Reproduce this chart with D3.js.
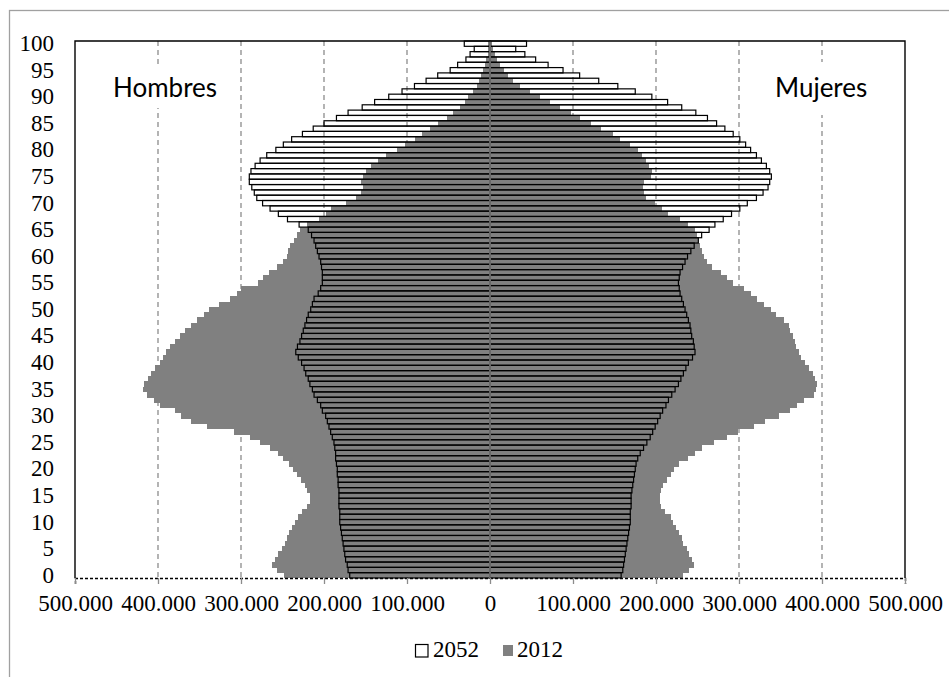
<!DOCTYPE html>
<html>
<head>
<meta charset="utf-8">
<script src="https://cdn.jsdelivr.net/npm/d3@7/dist/d3.min.js"></script>
<style>
  body { margin: 0; background: #fff; }
</style>
</head>
<body>
<svg id="chart"></svg>
<script>
// Population by single year of age (thousands of people), 0 .. 100+
const ages = d3.range(0, 101);
const ageTicks = [0, 5, 10, 15, 20, 25, 30, 35, 40, 45, 50, 55, 60, 65, 70, 75, 80, 85, 90, 95, 100];
const valueTicks = [-500, -400, -300, -200, -100, 0, 100, 200, 300, 400, 500];

const men2012 = [
  248, 257, 263, 259, 255, 251, 247, 245, 242, 238,
  235, 231, 226, 220, 217, 217, 220, 223, 228, 233,
  237, 242, 249, 256, 265, 277, 289, 309, 341, 360,
  372, 380, 398, 405, 413, 418, 417, 412, 408, 404,
  398, 394, 390, 385, 380, 374, 367, 360, 353, 345,
  338, 326, 313, 305, 300, 280, 273, 266, 257, 249,
  245, 243, 241, 236, 232, 229, 220, 206, 197, 191,
  174, 161, 155, 153, 155, 153, 149, 143, 135, 125,
  112, 102, 90, 82, 72, 63, 52, 45, 36, 30,
  27, 20, 16, 13, 11, 9, 6, 5, 3, 2,
  2
];
const women2012 = [
  232, 240, 246, 243, 240, 237, 233, 231, 228, 224,
  220, 218, 211, 206, 205, 205, 206, 209, 213, 218,
  222, 228, 238, 247, 256, 270, 285, 299, 318, 331,
  348, 361, 370, 378, 390, 393, 394, 392, 389, 384,
  379, 375, 372, 369, 367, 365, 362, 360, 354, 345,
  339, 330, 322, 314, 306, 293, 286, 278, 267, 262,
  258, 255, 253, 251, 249, 247, 238, 229, 215, 207,
  199, 188, 186, 184, 185, 194, 195, 191, 188, 183,
  178, 169, 157, 148, 134, 122, 108, 98, 84, 72,
  60, 48, 36, 28, 22, 17, 12, 9, 6, 4,
  2
];
const men2052 = [
  169, 171, 172, 174, 175, 176, 177, 178, 179, 180,
  181, 181, 181, 182, 182, 182, 182, 183, 183, 184,
  184, 185, 186, 186, 187, 188, 190, 192, 194, 196,
  198, 202, 204, 208, 212, 214, 217, 219, 222, 224,
  227, 231, 234, 232, 229, 227, 225, 223, 221, 219,
  216, 214, 212, 207, 204, 202, 202, 202, 203, 204,
  206, 208, 210, 212, 215, 219, 230, 244, 255, 265,
  274, 281, 284, 287, 290, 290, 288, 283, 277, 269,
  258, 249, 239, 226, 213, 200, 185, 171, 154, 139,
  122, 106, 91, 77, 63, 48, 39, 29, 24, 19,
  31
];
const women2052 = [
  158, 160, 161, 162, 163, 164, 165, 166, 167, 168,
  169, 169, 169, 170, 170, 170, 171, 172, 173, 174,
  175, 176, 178, 181, 185, 189, 193, 196, 199, 202,
  205, 208, 212, 215, 219, 223, 227, 230, 233, 236,
  239, 244, 247, 246, 245, 243, 242, 241, 239, 237,
  235, 233, 231, 229, 228, 227, 228, 229, 232, 235,
  238, 242, 246, 251, 255, 264, 271, 281, 291, 301,
  310, 321, 329, 335, 337, 339, 337, 333, 327, 321,
  314, 308, 301, 293, 283, 273, 262, 248, 231, 214,
  195, 175, 154, 131, 108, 88, 70, 55, 42, 31,
  44
];
const seriesNames = ['2052', '2012'];
const sideLabels = ['Hombres', 'Mujeres'];

const SERIF = '"Liberation Serif", "Times New Roman", serif';
const SANS = 'Lato, "Open Sans", sans-serif';

class PyramidChart {

  constructor(_config) {
    this.config = {
      parentElement: _config.parentElement,
      containerWidth: _config.containerWidth || 949,
      containerHeight: _config.containerHeight || 677,
      margin: _config.margin || {top: 41, right: 44, bottom: 99, left: 75}
    };
    this.initVis();
  }

  initVis() {
    let vis = this;

    vis.width = vis.config.containerWidth - vis.config.margin.left - vis.config.margin.right;
    vis.height = vis.config.containerHeight - vis.config.margin.top - vis.config.margin.bottom;

    vis.svg = d3.select(vis.config.parentElement)
      .attr('width', vis.config.containerWidth)
      .attr('height', vis.config.containerHeight);

    // outer chart frame (runs past the picture edge)
    vis.svg.append('rect')
      .attr('x', 9.5).attr('y', 10.5)
      .attr('width', 1000).attr('height', 1000)
      .attr('fill', 'none')
      .attr('stroke', '#a0a0a0')
      .attr('stroke-width', 1.3);

    vis.chart = vis.svg.append('g')
      .attr('transform', `translate(${vis.config.margin.left},${vis.config.margin.top})`);

    vis.xScale = d3.scaleLinear()
      .domain([-500, 500])
      .range([0, vis.width]);

    vis.yScale = d3.scaleBand()
      .domain(ages)
      .range([vis.height, 0])
      .padding(0);

    vis.renderVis();
  }

  renderVis() {
    let vis = this;
    const x = vis.xScale, y = vis.yScale;

    // dashed vertical gridlines
    vis.chart.append('g')
      .selectAll('line')
      .data(valueTicks.filter(d => d !== 0 && Math.abs(d) !== 500))
      .join('line')
        .attr('x1', d => x(d)).attr('x2', d => x(d))
        .attr('y1', 0).attr('y2', vis.height)
        .attr('stroke', '#8c8c8c')
        .attr('stroke-width', 1.3)
        .attr('stroke-dasharray', '5,4');

    // white text boxes behind the side labels cut the gridlines
    vis.chart.append('rect')
      .attr('x', 25).attr('y', 26).attr('width', 135).attr('height', 41)
      .attr('fill', '#fff');
    vis.chart.append('rect')
      .attr('x', 685).attr('y', 21).attr('width', 120).attr('height', 53)
      .attr('fill', '#fff');

    // 2012 solid grey bars
    const bars2012 = vis.chart.append('g').attr('shape-rendering', 'crispEdges');
    bars2012.selectAll('.m12')
      .data(ages)
      .join('rect')
        .attr('class', 'm12')
        .attr('x', d => x(-men2012[d]))
        .attr('y', d => y(d))
        .attr('width', d => x(0) - x(-men2012[d]))
        .attr('height', y.bandwidth() + 0.3)
        .attr('fill', '#808080');
    bars2012.selectAll('.w12')
      .data(ages)
      .join('rect')
        .attr('class', 'w12')
        .attr('x', x(0))
        .attr('y', d => y(d))
        .attr('width', d => x(women2012[d]) - x(0))
        .attr('height', y.bandwidth() + 0.3)
        .attr('fill', '#808080');

    // 2052 outlined bars on top
    const bars2052 = vis.chart.append('g');
    bars2052.selectAll('.m52')
      .data(ages)
      .join('rect')
        .attr('class', 'm52')
        .attr('x', d => x(-men2052[d]))
        .attr('y', d => y(d))
        .attr('width', d => x(0) - x(-men2052[d]))
        .attr('height', y.bandwidth())
        .attr('fill', 'none')
        .attr('stroke', '#000')
        .attr('stroke-width', 1.2);
    bars2052.selectAll('.w52')
      .data(ages)
      .join('rect')
        .attr('class', 'w52')
        .attr('x', x(0))
        .attr('y', d => y(d))
        .attr('width', d => x(women2052[d]) - x(0))
        .attr('height', y.bandwidth())
        .attr('fill', 'none')
        .attr('stroke', '#000')
        .attr('stroke-width', 1.2);

    // centre axis line
    vis.chart.append('line')
      .attr('x1', x(0)).attr('x2', x(0))
      .attr('y1', 0).attr('y2', vis.height)
      .attr('stroke', '#7f7f7f')
      .attr('stroke-width', 1.6);

    // plot border (top, left, right)
    vis.chart.append('path')
      .attr('d', `M0,${vis.height}V0H${vis.width}V${vis.height}`)
      .attr('fill', 'none')
      .attr('stroke', '#000')
      .attr('stroke-width', 1.4);

    // x axis
    const fmt = d3.formatLocale({decimal: ',', thousands: '.', grouping: [3], currency: ['', '']}).format(',');
    vis.xAxis = d3.axisBottom(x)
      .tickValues(valueTicks)
      .tickSize(6)
      .tickPadding(11)
      .tickFormat(d => fmt(Math.abs(d) * 1000));
    const xAxisG = vis.chart.append('g')
      .attr('transform', `translate(0,${vis.height})`)
      .call(vis.xAxis)
      .attr('font-family', SERIF)
      .attr('font-size', 23);
    xAxisG.select('.domain')
      .attr('stroke', '#000')
      .attr('stroke-width', 1.4)
      .attr('stroke-dasharray', '3,2');
    xAxisG.selectAll('.tick line').attr('stroke', '#8c8c8c').attr('stroke-width', 1.3);
    xAxisG.selectAll('.tick text')
      .style('font-family', SERIF).style('font-size', '23px').attr('fill', '#000');

    // y axis (age)
    vis.yAxis = d3.axisLeft(y)
      .tickValues(ageTicks)
      .tickSize(0)
      .tickPadding(21);
    const yAxisG = vis.chart.append('g').call(vis.yAxis)
      .attr('font-family', SERIF)
      .attr('font-size', 23);
    yAxisG.select('.domain').remove();
    yAxisG.selectAll('.tick text')
      .style('font-family', SERIF).style('font-size', '23px').attr('fill', '#000');

    // side labels
    vis.svg.append('text')
      .attr('x', 113).attr('y', 97)
      .style('font-family', SANS)
      .style('font-size', '26px')
      .text(sideLabels[0]);
    vis.svg.append('text')
      .attr('x', 775).attr('y', 97)
      .style('font-family', SANS)
      .style('font-size', '26px')
      .text(sideLabels[1]);

    // legend
    const legend = vis.svg.append('g').attr('transform', 'translate(415,644)');
    const items = legend.selectAll('g')
      .data(seriesNames)
      .join('g')
        .attr('transform', (d, i) => `translate(${i * 88},0)`);
    items.append('rect')
      .attr('x', (d, i) => i === 0 ? 0.5 : 0)
      .attr('y', (d, i) => i === 0 ? 0.5 : 1)
      .attr('width', (d, i) => i === 0 ? 12.5 : 10)
      .attr('height', (d, i) => i === 0 ? 12.5 : 11)
      .attr('fill', (d, i) => i === 0 ? '#fff' : '#808080')
      .attr('stroke', (d, i) => i === 0 ? '#000' : 'none')
      .attr('stroke-width', 1.2);
    items.append('text')
      .attr('x', (d, i) => i === 0 ? 18 : 14)
      .attr('y', 13)
      .style('font-family', SERIF)
      .style('font-size', '23px')
      .text(d => d);
  }
}

new PyramidChart({parentElement: '#chart'});
</script>
</body>
</html>
